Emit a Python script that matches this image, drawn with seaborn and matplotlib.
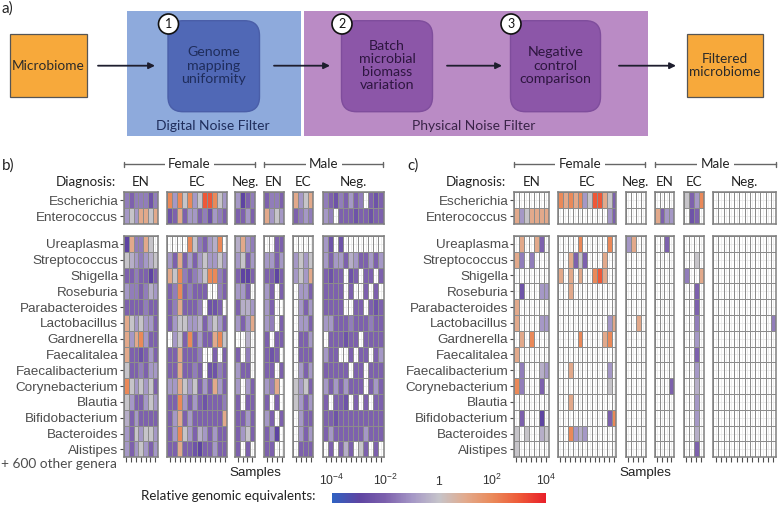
import numpy as np
import pandas as pd
import matplotlib
matplotlib.use("Agg")
import matplotlib.pyplot as plt
import seaborn as sns
from matplotlib.colors import LinearSegmentedColormap, Normalize
from matplotlib.patches import FancyBboxPatch, Rectangle, Circle
from matplotlib.cm import ScalarMappable

sns.set_theme(style="white")
plt.rcParams['font.family'] = ['Liberation Sans', 'DejaVu Sans']
plt.rcParams['mathtext.fontset'] = 'custom'
plt.rcParams['mathtext.rm'] = 'Lato'
plt.rcParams['mathtext.default'] = 'regular'

W, H = 778, 507

# ---------------- data ----------------
genera_top = ["Escherichia", "Enterococcus"]
genera_bottom = ["Ureaplasma", "Streptococcus", "Shigella", "Roseburia",
                 "Parabacteroides", "Lactobacillus", "Gardnerella", "Faecalitalea",
                 "Faecalibacterium", "Corynebacterium", "Blautia", "Bifidobacterium",
                 "Bacteroides", "Alistipes"]
diagnosis = ["EN", "EC", "Neg.", "EN", "EC", "Neg."]
sex_groups = ["Female", "Male"]
n_samples = [7, 12, 4, 4, 4, 12]

# cell codes -> log10(relative genomic equivalents); '.' = not detected
code_to_log10 = {'a': -4, 'b': -3, 'c': -2.5, 'd': -2, 'e': -1.5, 'f': -1,
                 'g': -0.5, 'h': 0, 'i': 1, 'j': 2, 'k': 3, 'l': 4}

# facets in order: F-EN F-EC F-Neg M-EN M-EC M-Neg
panel_b_rows = {
    "Escherichia":      "edeeece jfjhjfhkkjhf fbde deed ifhi edcedfde.dcd",
    "Enterococcus":     "fhfiihi cdidffdecfed ddfd ifhf defe fe.dddcddcdd",
    "Ureaplasma":       "bieeih. ....jhedfgj. gife ..dd .... fc.c........",
    "Streptococcus":    "hgfefgh fdidfdfhffhf fhdf ffdf fhfh fdffdgfddfdf",
    "Shigella":         "ddeddbd ihjedefhjjed dbbd ddbd fhfi dcdd.cd.dd.d",
    "Roseburia":        "feedegf dejdeddd..ed ffd. fd.d .ffd dddd.d..d.d.",
    "Parabacteroides":  "ddddedd deiddde.ccd. dggf fd.. .fdf dddd..dd.dcd",
    "Lactobacillus":    "ihfhffd dfhhffgdfhfd fdfi fe.d .ffd ffdddedddedd",
    "Gardnerella":      "ifijfdd .fhdjdfddijh ..g. d.dd .ddf .dddcdd.dddd",
    "Faecalitalea":     "iddcdfd ddiddde..d.d d.e. dcd. .ddd fdd..d.dd.df",
    "Faecalibacterium": "hddedff ddidded.cced fdd. dd.d .fdf ddddd.dd.ddd",
    "Corynebacterium":  "jhfhfhd ffihfhdfdifd f.fd fei. hfhd fdfdfddd.dfd",
    "Blautia":          "hfddfhf ddjfdfdcddde d.dd d.d. hfdf d.ddc.d.d.dd",
    "Bifidobacterium":  "gdfdddd dfidfddddddi ddfd fd.d .fdd ddcddddddddd",
    "Bacteroides":      "fdhfhhf dfjhfdgfdfdd dfhd dfb. .fdf dfddddddfddd",
    "Alistipes":        "fdfhfdf ddiddcbddfdd d.d. dd.. .ddd .d.dgd.hd.d.",
}
panel_c_rows = {
    "Escherichia":      "....... jijijfhkkihd .... .... hdfj ............",
    "Enterococcus":     "ifhiiii ..........fd .... idff .cd. ............",
    "Ureaplasma":       ".i..id. ....j.....j. fi.. ..d. .... ............",
    "Streptococcus":    "ie.e... ..idhd...i.. .... .... ..h. ............",
    "Shigella":         "....... i.i.i..jki.. .... .... e..i ............",
    "Roseburia":        ".c...ff ..i......... .... .... ..d. ............",
    "Parabacteroides":  "i...... ............ .... .... ..d. ............",
    "Lactobacillus":    "i....ff ..........fi ..i. .... ..e. ...........e",
    "Gardnerella":      ".i.j... ....j....ij. .... .... ..f. ............",
    "Faecalitalea":     "i...... ............ .... .... ..d. ............",
    "Faecalibacterium": ".e...gf ..i.......f. .... .... ..f. ............",
    "Corynebacterium":  "je...d. ..........h. .... ...d ..g. ............",
    "Blautia":          "....... ..i......... .... .... ..f. ............",
    "Bifidobacterium":  ".d...b. ..........dj .... .... ..f. ............",
    "Bacteroides":      "h.h..gh ..jfgf...... .... .... ..g. ............",
    "Alistipes":        "h...... ............ .... .... ..d. ............",
}

cbar_ticks = [-4, -2, 0, 2, 4]
cbar_labels = [r"$10^{-4}$", r"$10^{-2}$", r"$1$", r"$10^{2}$", r"$10^{4}$"]

pipeline_steps = ["Genome\nmapping\nuniformity", "Batch\nmicrobial\nbiomass\nvariation",
                  "Negative\ncontrol\ncomparison"]

# ---------------- style ----------------
cmap = LinearSegmentedColormap.from_list("rge", [
    (0.0, "#2f62c2"), (0.125, "#5e44a2"), (0.25, "#7d61ad"), (0.375, "#a597c6"),
    (0.5, "#c6c4ca"), (0.625, "#e2aa8c"), (0.75, "#ea8a5a"), (0.875, "#ee5a38"),
    (1.0, "#e8202a")])
norm = Normalize(-4, 4)
diag_font = ['Lato', 'DejaVu Sans']
grey_txt = '#4d4d4d'

fig = plt.figure(figsize=(W / 100, H / 100), dpi=100)


def add_ax(x0, y0, x1, y1):
    return fig.add_axes([x0 / W, 1 - y1 / H, (x1 - x0) / W, (y1 - y0) / H])


def facet_frame(rows, genera, fi):
    data = []
    for g in genera:
        seg = rows[g].split()[fi]
        data.append([code_to_log10.get(ch, np.nan) for ch in seg])
    cols = [f"s{k + 1}" for k in range(n_samples[fi])]
    return pd.DataFrame(data, index=genera, columns=cols)


group_y = [(192.5, 224.2), (236.0, 457.2)]
b_x = [(124, 157.5), (167, 227), (235, 255), (264, 284), (293, 313), (323, 383.5)]
c_x = [(514, 548.5), (558, 616.5), (626, 645.5), (655, 673.5), (684, 703.5), (713, 776)]


def draw_panel(rows, xext):
    for gi, (genera, (y0, y1)) in enumerate(zip([genera_top, genera_bottom], group_y)):
        for fi, (x0, x1) in enumerate(xext):
            ax = add_ax(x0, y0, x1, y1)
            df = facet_frame(rows, genera, fi)
            sns.heatmap(df, ax=ax, cmap=cmap, vmin=-4, vmax=4, cbar=False,
                        linewidths=0.6, linecolor='#8c8c8c',
                        xticklabels=False, yticklabels=False)
            n = df.shape[1]
            ax.set_xticks(np.arange(n) + 0.5, labels=[])
            ax.set_yticks(np.arange(len(genera)) + 0.5,
                          labels=(genera if fi == 0 else []))
            ax.grid(True, color='#e6e6e6', linewidth=0.5)
            ax.set_axisbelow(True)
            ax.set_xlabel("")
            ax.set_ylabel("")
            for sp in ax.spines.values():
                sp.set_visible(True)
                sp.set_color('#808080')
                sp.set_linewidth(1.1)
            ax.tick_params(axis='x', bottom=(gi == 1), top=False, length=3.5,
                           width=0.8, color='#4d4d4d', direction='out')
            ax.tick_params(axis='y', left=(fi == 0), right=False, length=3,
                           width=0.8, color='#4d4d4d', direction='out',
                           labelsize=9.7, labelcolor=grey_txt, pad=1.2, rotation=0)


draw_panel(panel_b_rows, b_x)
draw_panel(panel_c_rows, c_x)

# colorbar
cax = add_ax(332, 493, 546, 503)
cb = fig.colorbar(ScalarMappable(norm=norm, cmap=cmap), cax=cax, orientation='horizontal')
cb.outline.set_visible(False)
cax.xaxis.set_ticks_position('top')
cax.set_xticks(cbar_ticks, labels=cbar_labels)
cax.tick_params(axis='x', direction='in', color='white', length=2.5, width=0.8,
                labelsize=8.8, labelcolor='#333333', pad=6)
for lab in cax.get_xticklabels():
    lab.set_va('baseline')

# ---------------- overlay ----------------
ov = fig.add_axes([0, 0, 1, 1])
ov.set_xlim(0, W)
ov.set_ylim(H, 0)
ov.axis('off')

# panel a diagram
ov.text(1, 9, "a)", ha='left', va='center', fontsize=11, family=diag_font, color='#222222')
for (x0, x1, lab) in [(10, 87, "Microbiome"), (687, 763, "Filtered\nmicrobiome")]:
    ov.add_patch(Rectangle((x0, 34), x1 - x0, 63, facecolor='#f7a93b', edgecolor='#555555', lw=0.9))
    ov.text((x0 + x1) / 2, 65.5, lab, ha='center', va='center', fontsize=9.8,
            family=diag_font, color='#2a2a2a', linespacing=1.15)

ov.add_patch(Rectangle((127, 10.7), 174, 125.3, facecolor='#8eaadc', edgecolor='none'))
ov.add_patch(Rectangle((304, 10.7), 344, 125.3, facecolor='#ba8bc5', edgecolor='none'))
ov.text(213, 125.5, "Digital Noise Filter", ha='center', va='center', fontsize=10,
        family=diag_font, color='#1f2d5c')
ov.text(474, 125.5, "Physical Noise Filter", ha='center', va='center', fontsize=10,
        family=diag_font, color='#3a2448')

boxes = [(168, 259.5, '#5068b6', '#4a5ea8', '#1f2d5c'),
         (341.5, 432.5, '#8c56a8', '#7f4d9c', '#2e1640'),
         (510.5, 600.5, '#8c56a8', '#7f4d9c', '#2e1640')]
for k, ((x0, x1, fc, ec, tc), label) in enumerate(zip(boxes, pipeline_steps)):
    ov.add_patch(FancyBboxPatch((x0, 20.7), x1 - x0, 91, boxstyle="round,pad=0,rounding_size=15",
                                facecolor=fc, edgecolor=ec, lw=1))
    ov.text((x0 + x1) / 2, 65.5, label, ha='center', va='center', fontsize=10.2,
            family=diag_font, color=tc, linespacing=1.12)
    cx = x0 + 0.5
    ov.add_patch(Circle((cx, 24), 10, facecolor='white', edgecolor='#111111', lw=1.2, zorder=5))
    ov.text(cx, 24.5, str(k + 1), ha='center', va='center', fontsize=9, family=diag_font,
            color='#111111', zorder=6)

for (xa, xb) in [(98, 155), (274, 330), (447, 502), (619, 676)]:
    ov.annotate('', xy=(xb, 65.7), xytext=(xa, 65.7),
                arrowprops=dict(arrowstyle='-|>', color='#1e1e2e', lw=1.3,
                                mutation_scale=9, shrinkA=0, shrinkB=0))

# panel b/c headers
for plab, xext, lab_x, lx, samp_x in [("b)", b_x, 116.5, 2, 255), ("c)", c_x, 506.5, 407, 645)]:
    ov.text(lx, 166, plab, ha='left', va='center', fontsize=11, family=diag_font, color='#222222')
    for si, sex in enumerate(sex_groups):
        x0 = xext[3 * si][0]
        x1 = xext[3 * si + 2][1]
        ov.plot([x0, x1], [164, 164], color='#666666', lw=1)
        ov.plot([x0, x0], [161.5, 166.5], color='#666666', lw=1)
        ov.plot([x1, x1], [161.5, 166.5], color='#666666', lw=1)
        ov.text((x0 + x1) / 2, 168, sex, ha='center', va='baseline', fontsize=9.6,
                family=diag_font, color='#222222',
                bbox=dict(facecolor='white', edgecolor='none', pad=2.5))
    ov.text(lab_x, 186, "Diagnosis:", ha='right', va='baseline', fontsize=9.6,
            family=diag_font, color='#222222')
    for fi, (x0, x1) in enumerate(xext):
        ov.text((x0 + x1) / 2, 186, diagnosis[fi], ha='center', va='baseline',
                fontsize=9.6, family=diag_font, color='#222222')
    ov.text(samp_x, 476, "Samples", ha='center', va='baseline',
            fontsize=9.6, color='#222222')

ov.text(117, 468.5, "+ 600 other genera", ha='right', va='baseline', fontsize=9.8,
        family=diag_font, color=grey_txt)
ov.text(316, 499.5, "Relative genomic equivalents:", ha='right', va='baseline',
        fontsize=9.6, family=diag_font, color='#222222')

fig.savefig("out.png", dpi=100)
